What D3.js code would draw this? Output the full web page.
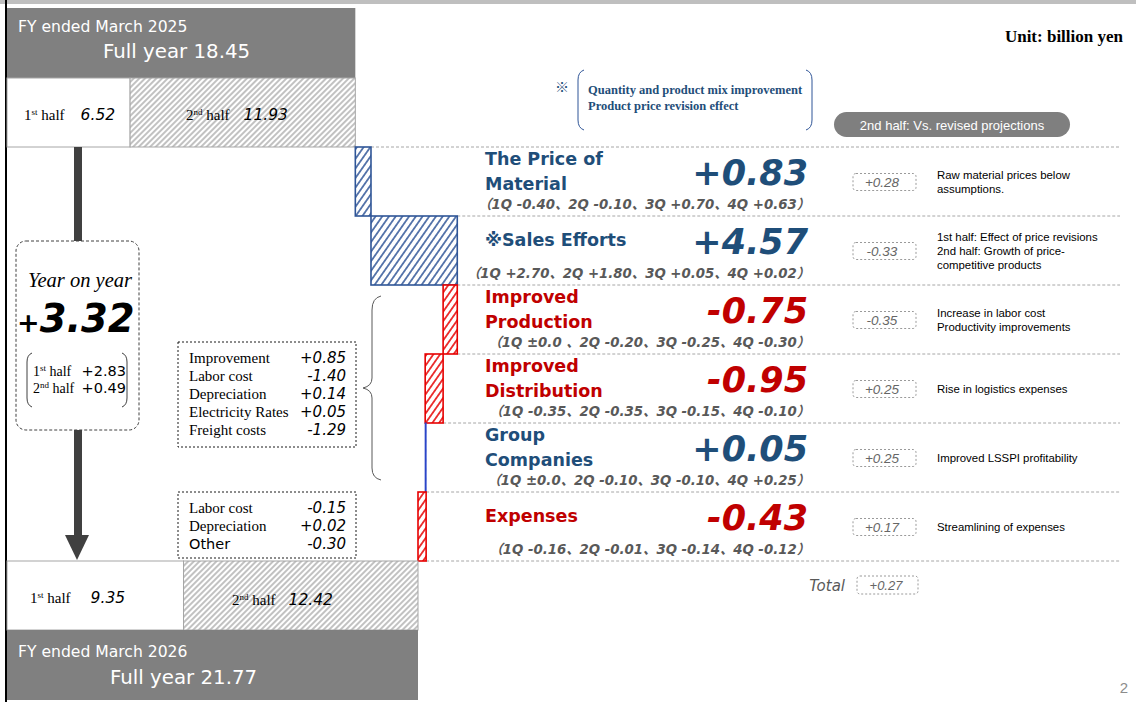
<!DOCTYPE html>
<html><head><meta charset="utf-8">
<script src="https://cdn.jsdelivr.net/npm/d3@7"></script>
<style>body{margin:0;background:#fff}svg{display:block}</style>
</head><body><svg id="c" width="1136" height="702"></svg>
<script>
// ---------- data ----------
const categories = ["The Price of\nMaterial", "※Sales Efforts", "Improved\nProduction", "Improved\nDistribution", "Group\nCompanies", "Expenses"];
const deltas = [0.83, 4.57, -0.75, -0.95, 0.05, -0.43];
const deltaLabels = ["+0.83", "+4.57", "-0.75", "-0.95", "+0.05", "-0.43"];
const quarterLabels = [
  "（1Q -0.40、2Q -0.10、3Q +0.70、4Q +0.63）",
  "（1Q +2.70、2Q +1.80、3Q +0.05、4Q +0.02）",
  "（1Q ±0.0 、2Q -0.20、3Q -0.25、4Q -0.30）",
  "（1Q -0.35、2Q -0.35、3Q -0.15、4Q -0.10）",
  "（1Q ±0.0、2Q -0.10、3Q -0.10、4Q +0.25）",
  "（1Q -0.16、2Q -0.01、3Q -0.14、4Q -0.12）"
];
const revisedValues = ["+0.28", "-0.33", "-0.35", "+0.25", "+0.25", "+0.17"];
const revisedNotes = [
  ["Raw material prices below", "assumptions."],
  ["1st half: Effect of price revisions", "2nd half: Growth of price-", "competitive products"],
  ["Increase in labor cost", "Productivity improvements"],
  ["Rise in logistics expenses"],
  ["Improved LSSPI profitability"],
  ["Streamlining of expenses"]
];
const revisedTotal = "+0.27";
const prevFull = 18.45, prevH1 = 6.52, prevH2 = 11.93;
const curFull = 21.77, curH1 = 9.35, curH2 = 12.42;
const yoyTotal = "3.32";
const yoyHalfLabels = ["1st", "2nd"];
const yoyHalfValues = ["+2.83", "+0.49"];
const improvementItems = ["Improvement", "Labor cost", "Depreciation", "Electricity Rates", "Freight costs"];
const improvementValues = ["+0.85", "-1.40", "+0.14", "+0.05", "-1.29"];
const expenseItems = ["Labor cost", "Depreciation", "Other"];
const expenseValues = ["-0.15", "+0.02", "-0.30"];
const salesNote = ["Quantity and product mix improvement", "Product price revision effect"];

// ---------- setup ----------
const svg = d3.select("#c");
const SANS = "'DejaVu Sans', 'Noto Sans CJK JP', sans-serif";
const JP = "'DejaVu Sans', 'Noto Sans CJK JP', sans-serif";
const SERIF = "'Liberation Serif', 'Times New Roman', serif";
const ARIAL = "'Liberation Sans', Arial, sans-serif";
const BLUE = "#1F4E79", RED = "#C00000", BARBLUE = "#2F5597", BARRED = "#E60000";
const GRAYBOX = "#808080";

const x = d3.scaleLinear().domain([0, curFull]).range([7, 418]);
const y = d3.scaleBand().domain(d3.range(categories.length)).range([147, 561]);
const bh = y.bandwidth();

const defs = svg.append("defs");
function hatch(id, color, size, w, bg, rot, dash) {
  const p = defs.append("pattern").attr("id", id).attr("patternUnits", "userSpaceOnUse")
    .attr("width", size).attr("height", size).attr("patternTransform", "rotate(" + rot + ")");
  p.append("rect").attr("width", size).attr("height", size).attr("fill", bg);
  const l = p.append("line").attr("x1", size / 2).attr("x2", size / 2).attr("y1", 0).attr("y2", size)
    .attr("stroke", color).attr("stroke-width", w);
  if (dash) l.attr("stroke-dasharray", dash);
}
hatch("hBlue", BARBLUE, 5.5, 1.5, "#fff", 35);
hatch("hRed", BARRED, 5.5, 1.5, "#fff", 35);
hatch("hGray", "#8f8f8f", 4, 1.1, "#fff", 45);

// top gray band & left black line
svg.append("rect").attr("x", 0).attr("y", 0).attr("width", 1136).attr("height", 4).attr("fill", "#BFBFBF");
svg.append("rect").attr("x", 5).attr("y", 0).attr("width", 2).attr("height", 702).attr("fill", "#000");

// ---------- previous year blocks ----------
svg.append("rect").attr("x", x(0)).attr("y", 8).attr("width", x(prevFull) - x(0)).attr("height", 70).attr("fill", GRAYBOX);
svg.append("text").attr("x", 18).attr("y", 32).attr("fill", "#fff").attr("font-family", SANS).attr("font-size", 15.6).text("FY ended March 2025");
svg.append("text").attr("x", 103).attr("y", 58).attr("fill", "#fff").attr("font-family", SANS).attr("font-size", 19.8).text("Full year " + prevFull.toFixed(2));

svg.append("rect").attr("x", x(0)).attr("y", 78).attr("width", x(prevH1) - x(0)).attr("height", 69).attr("fill", "#fff").attr("stroke", "#A6A6A6");
svg.append("rect").attr("x", x(prevH1)).attr("y", 78).attr("width", x(prevFull) - x(prevH1)).attr("height", 69).attr("fill", "url(#hGray)").attr("stroke", "#A6A6A6");

function halfText(xx, yy, ord, val, gap) {
  const t = svg.append("text").attr("x", xx).attr("y", yy);
  t.append("tspan").attr("font-family", SERIF).attr("font-size", 15).text(ord[0]);
  t.append("tspan").attr("font-family", SERIF).attr("font-size", 9).attr("dy", -5).text(ord.slice(1));
  t.append("tspan").attr("font-family", SERIF).attr("font-size", 15).attr("dy", 5).text(" half");
  t.append("tspan").attr("font-family", SANS).attr("font-style", "italic").attr("font-size", 15.5).attr("dx", gap).text(val);
  return t;
}
halfText(24, 120, "1st", prevH1.toFixed(2), 16);
halfText(186, 120, "2nd", prevH2.toFixed(2), 14);

// ---------- waterfall bars ----------
let cum = prevFull;
const bars = deltas.map((d, i) => { const s = cum; cum += d; return { i, d, s, e: cum }; });

// dashed separators
const rightEdges = [x(prevFull)].concat(bars.map(b => x(Math.max(b.s, b.e)))).concat([x(curFull)]);
for (let k = 0; k <= categories.length; k++) {
  const yy = k < categories.length ? y(k) : y(k - 1) + bh;
  const x0 = Math.max(rightEdges[k], rightEdges[k + 1]);
  svg.append("line").attr("x1", x0).attr("x2", 1120).attr("y1", yy).attr("y2", yy)
    .attr("stroke", "#A6A6A6").attr("stroke-dasharray", "3,2").attr("stroke-width", 1);
}

svg.selectAll("rect.bar").data(bars).enter().append("rect").attr("class", "bar")
  .attr("x", b => x(Math.min(b.s, b.e)))
  .attr("y", b => y(b.i))
  .attr("width", b => Math.abs(x(b.e) - x(b.s)))
  .attr("height", bh)
  .attr("fill", b => b.d >= 0 ? "url(#hBlue)" : "url(#hRed)")
  .attr("stroke", b => Math.abs(b.d) < 0.1 ? "#2a44c8" : (b.d >= 0 ? BARBLUE : BARRED))
  .attr("stroke-width", b => Math.abs(b.d) < 0.1 ? 1 : 1.6);

// labels
bars.forEach(b => {
  const yT = y(b.i);
  const col = b.d >= 0 ? BLUE : RED;
  const lines = categories[b.i].split("\n");
  const two = lines.length > 1;
  lines.forEach((ln, j) => {
    svg.append("text").attr("x", 485).attr("y", two ? yT + 18 + j * 25 : yT + 30)
      .attr("font-family", JP).attr("font-weight", "bold").attr("font-size", 17.5).attr("fill", col).text(ln);
  });
  svg.append("text").attr("x", 808).attr("y", yT + 38).attr("text-anchor", "end")
    .attr("font-family", SANS).attr("font-weight", "bold").attr("font-style", "italic").attr("font-size", 35)
    .attr("fill", col).text(deltaLabels[b.i]);
  svg.append("text").attr("x", 810).attr("y", yT + 62).attr("text-anchor", "end")
    .attr("font-family", JP).attr("font-weight", "bold").attr("font-style", "italic").attr("font-size", 13.3)
    .attr("fill", "#595959").text(quarterLabels[b.i]);

  // right side: revised projections
  const cy = yT + 35;
  svg.append("rect").attr("x", 853).attr("y", cy - 8.5).attr("width", 63).attr("height", 17).attr("rx", 3)
    .attr("fill", "none").attr("stroke", "#808080").attr("stroke-dasharray", "2,2").attr("stroke-width", 0.8);
  svg.append("text").attr("x", 882).attr("y", cy + 5).attr("text-anchor", "middle")
    .attr("font-family", ARIAL).attr("font-style", "italic").attr("font-size", 13.5).attr("fill", "#666").text(revisedValues[b.i]);
  const notes = revisedNotes[b.i];
  notes.forEach((n, j) => {
    svg.append("text").attr("x", 937).attr("y", cy + 4 + (j - (notes.length - 1) / 2) * 14)
      .attr("font-family", ARIAL).attr("font-size", 11.4).attr("fill", "#000").text(n);
  });
});

// total
svg.append("text").attr("x", 845).attr("y", 591).attr("text-anchor", "end").attr("font-family", SANS)
  .attr("font-style", "italic").attr("font-size", 15).attr("fill", "#595959").text("Total");
svg.append("rect").attr("x", 857).attr("y", 576).attr("width", 61).attr("height", 18).attr("rx", 3)
  .attr("fill", "none").attr("stroke", "#808080").attr("stroke-dasharray", "2,2").attr("stroke-width", 0.8);
svg.append("text").attr("x", 886).attr("y", 589.5).attr("text-anchor", "middle")
  .attr("font-family", ARIAL).attr("font-style", "italic").attr("font-size", 13).attr("fill", "#666").text(revisedTotal);

// pill
svg.append("rect").attr("x", 834).attr("y", 112).attr("width", 236).attr("height", 25).attr("rx", 12.5).attr("fill", "#7F7F7F");
svg.append("text").attr("x", 952).attr("y", 129.5).attr("text-anchor", "middle").attr("font-family", ARIAL)
  .attr("font-size", 13).attr("fill", "#fff").text("2nd half: Vs. revised projections");

// unit
svg.append("text").attr("x", 1123).attr("y", 42).attr("text-anchor", "end").attr("font-family", SERIF)
  .attr("font-weight", "bold").attr("font-size", 17).attr("fill", "#000").text("Unit: billion yen");

// sales note
svg.append("text").attr("x", 555).attr("y", 92).attr("font-family", "'Noto Sans CJK JP', sans-serif").attr("font-size", 14).attr("fill", BLUE).text("※");
salesNote.forEach((t, j) => {
  svg.append("text").attr("x", 588).attr("y", 94 + j * 16).attr("font-family", SERIF).attr("font-weight", "bold")
    .attr("font-size", 12.5).attr("fill", BLUE).text(t);
});
svg.append("path").attr("d", "M584,70 Q578,72 578,80 L578,120 Q578,128 584,130").attr("fill", "none").attr("stroke", BARBLUE).attr("stroke-width", 1);
svg.append("path").attr("d", "M806,70 Q812,72 812,80 L812,120 Q812,128 806,130").attr("fill", "none").attr("stroke", BARBLUE).attr("stroke-width", 1);

// ---------- current year blocks ----------
svg.append("rect").attr("x", x(0)).attr("y", 561).attr("width", x(curH1) - x(0)).attr("height", 69).attr("fill", "#fff").attr("stroke", "#A6A6A6");
svg.append("rect").attr("x", x(curH1)).attr("y", 561).attr("width", x(curFull) - x(curH1)).attr("height", 69).attr("fill", "url(#hGray)").attr("stroke", "#A6A6A6");
halfText(30, 603, "1st", curH1.toFixed(2), 20);
halfText(232, 605, "2nd", curH2.toFixed(2), 13);
svg.append("rect").attr("x", x(0)).attr("y", 630).attr("width", x(curFull) - x(0)).attr("height", 70).attr("fill", GRAYBOX);
svg.append("text").attr("x", 18).attr("y", 657).attr("fill", "#fff").attr("font-family", SANS).attr("font-size", 15.6).text("FY ended March 2026");
svg.append("text").attr("x", 110).attr("y", 684).attr("fill", "#fff").attr("font-family", SANS).attr("font-size", 19.8).text("Full year " + curFull.toFixed(2));

// ---------- arrow & year-on-year ----------
svg.append("rect").attr("x", 74).attr("y", 147).attr("width", 8).attr("height", 94).attr("fill", "#404040");
svg.append("rect").attr("x", 74).attr("y", 430).attr("width", 8).attr("height", 106).attr("fill", "#404040");
svg.append("path").attr("d", "M65,535 L89,535 L77,560 Z").attr("fill", "#404040");

svg.append("rect").attr("x", 16).attr("y", 241).attr("width", 123).attr("height", 189).attr("rx", 10)
  .attr("fill", "#fff").attr("stroke", "#404040").attr("stroke-dasharray", "3,2").attr("stroke-width", 1);
svg.append("text").attr("x", 132).attr("y", 287).attr("text-anchor", "end").attr("font-family", SERIF)
  .attr("font-style", "italic").attr("font-size", 20.5).attr("fill", "#000").text("Year on year");
const yt = svg.append("text").attr("x", 17).attr("y", 332).attr("font-family", SANS).attr("font-weight", "bold").attr("font-style", "italic").attr("fill", "#000");
yt.append("tspan").attr("font-size", 27).text("+");
yt.append("tspan").attr("font-size", 38.5).text(yoyTotal);
svg.append("path").attr("d", "M32,353 Q27,355 27,362 L27,398 Q27,405 32,407").attr("fill", "none").attr("stroke", "#404040");
svg.append("path").attr("d", "M122,353 Q127,355 127,362 L127,398 Q127,405 122,407").attr("fill", "none").attr("stroke", "#404040");
yoyHalfLabels.forEach((o, j) => {
  const t = svg.append("text").attr("x", 33).attr("y", 376 + j * 17);
  t.append("tspan").attr("font-family", SERIF).attr("font-size", 14).text(o[0]);
  t.append("tspan").attr("font-family", SERIF).attr("font-size", 9).attr("dy", -5).text(o.slice(1));
  t.append("tspan").attr("font-family", SERIF).attr("font-size", 14).attr("dy", 5).text(" half");
  svg.append("text").attr("x", 126).attr("y", 376 + j * 17).attr("text-anchor", "end").attr("font-family", SANS)
    .attr("font-size", 14.5).text(yoyHalfValues[j]);
});

// ---------- detail boxes ----------
function detailBox(y0, h, items, vals) {
  svg.append("rect").attr("x", 178).attr("y", y0).attr("width", 178).attr("height", h)
    .attr("fill", "#fff").attr("stroke", "#000").attr("stroke-dasharray", "2,2").attr("stroke-width", 0.9);
  items.forEach((it, j) => {
    const sans = it === "Other";
    svg.append("text").attr("x", 189).attr("y", y0 + 21 + j * 18)
      .attr("font-family", sans ? SANS : SERIF).attr("font-size", sans ? 14.5 : 15).attr("fill", "#000").text(it);
    svg.append("text").attr("x", 346).attr("y", y0 + 21 + j * 18).attr("text-anchor", "end")
      .attr("font-family", SANS).attr("font-style", "italic").attr("font-size", 15).attr("fill", "#000").text(vals[j]);
  });
}
detailBox(342, 105, improvementItems, improvementValues);
detailBox(492, 66, expenseItems, expenseValues);

// brace
svg.append("path").attr("d", "M381,296 Q372,298 372,310 L372,378 Q372,386 363,388 Q372,390 372,398 L372,468 Q372,478 381,480")
  .attr("fill", "none").attr("stroke", "#595959").attr("stroke-width", 1);

// page number
svg.append("text").attr("x", 1128).attr("y", 693).attr("text-anchor", "end").attr("font-family", ARIAL)
  .attr("font-size", 15).attr("fill", "#8c8c8c").text("2");
</script></body></html>
